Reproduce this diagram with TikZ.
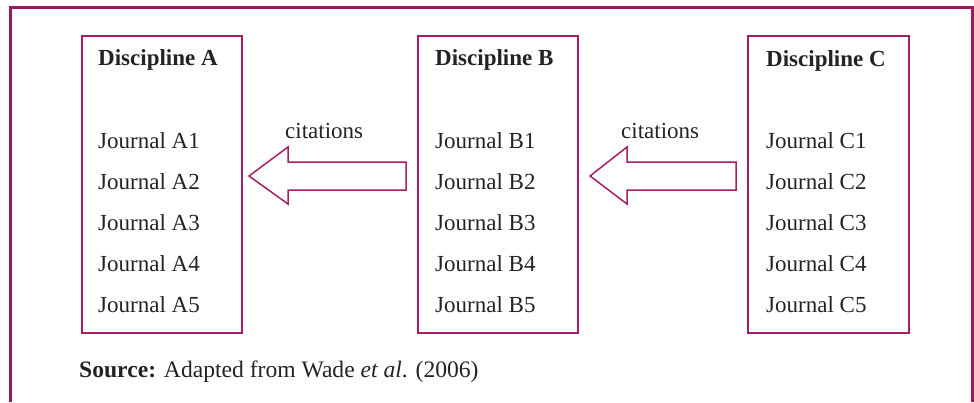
\documentclass[tikz,border=0pt]{standalone}
\usepackage{fontspec}
\setmainfont{Liberation Serif}
\definecolor{frame}{RGB}{155,25,95}
\definecolor{boxc}{RGB}{165,30,100}
\definecolor{txt}{RGB}{35,35,35}
\begin{document}
\begin{tikzpicture}[x=1pt,y=-1pt,
  box/.style={draw=boxc, line width=2pt, rectangle, inner sep=0pt, outer sep=0pt, minimum width=160.5pt, minimum height=297pt, anchor=north west},
  lbl/.style={anchor=base west, inner sep=0pt, text=txt, font=\fontsize{23}{27}\selectfont},
  hd/.style={lbl, font=\fontsize{23}{27}\selectfont\bfseries},
  blockarrow/.style={draw=boxc, line width=1.5pt, line join=miter, fill=white}]
\useasboundingbox (0,0) rectangle (974,402);
% outer frame (open at the bottom)
\draw[frame, line width=3pt] (10.5,402) -- (10.5,7.5) -- (972,7.5) -- (972,402);
% boxes
\node[box] (boxA) at (81.5,35.5) {};
\node[box] (boxB) at (417.5,35.5) {};
\node[box] (boxC) at (748,35.5) {};
% headings
\node[hd] (hA) at (98,65.5) {Discipline A};
\node[hd] (hB) at (435,65.5) {Discipline B};
\node[hd] (hC) at (766,66.5) {Discipline C};
% journals
\foreach \i/\y in {1/148,2/189,3/230,4/271,5/312}{
  \node[lbl] (jA\i) at (98,\y) {Journal A\i};
  \node[lbl] (jB\i) at (435,\y) {Journal B\i};
  \node[lbl] (jC\i) at (766,\y) {Journal C\i};
}
% block arrows
\coordinate (tipAB) at (249,176);
\coordinate (tipBC) at (590,176);
\draw[blockarrow] (tipAB) -- ++(39,-29) -- ++(0,15) -- ++(118,0) -- ++(0,28) -- ++(-118,0) -- ++(0,14) -- cycle;
\draw[blockarrow] (tipBC) -- ++(37,-29) -- ++(0,15) -- ++(109,0) -- ++(0,28) -- ++(-109,0) -- ++(0,14) -- cycle;
\node[lbl] (cAB) at (285,138) {citations};
\node[lbl] (cBC) at (621,138) {citations};
% source
\node[lbl, font=\fontsize{23.6}{28}\selectfont] (src) at (79,377) {\textbf{Source:} Adapted from Wade \textit{et al}. (2006)};
\end{tikzpicture}
\end{document}
